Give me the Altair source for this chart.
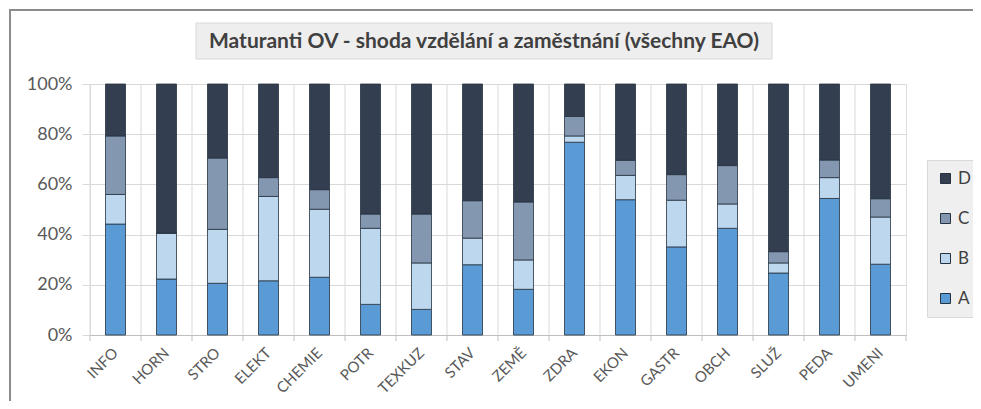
import altair as alt
import pandas as pd

categories = ["INFO", "HORN", "STRO", "ELEKT", "CHEMIE", "POTR", "TEXKUZ", "STAV",
              "ZEMĚ", "ZDRA", "EKON", "GASTR", "OBCH", "SLUŽ", "PEDA", "UMENI"]
series_names = ["A", "B", "C", "D"]
A = [44.2, 22.3, 20.6, 21.6, 23.0, 12.2, 10.2, 28.0, 18.2, 76.8, 53.9, 35.1, 42.5, 24.7, 54.4, 28.2]
B = [11.8, 18.3, 21.5, 33.6, 27.1, 30.3, 18.5, 10.6, 11.7, 2.5, 9.7, 18.6, 9.7, 4.0, 8.3, 18.8]
C = [23.3, 0.0, 28.4, 7.5, 7.8, 5.7, 19.5, 14.9, 23.1, 7.8, 6.0, 10.2, 15.3, 4.5, 7.0, 7.3]
D = [20.7, 59.4, 29.5, 37.3, 42.1, 51.8, 51.8, 46.5, 47.0, 12.9, 30.4, 36.1, 32.5, 66.8, 30.3, 45.7]
y_ticks = [0, 0.2, 0.4, 0.6, 0.8, 1.0]
title_text = "Maturanti  OV - shoda vzdělání a zaměstnání (všechny EAO)"

colors = {"A": "#5B9BD5", "B": "#BDD7EE", "C": "#8497B0", "D": "#333F50"}

rows = []
for i, cat in enumerate(categories):
    for j, (name, vals) in enumerate(zip(series_names, [A, B, C, D])):
        rows.append({"cat": cat, "seg": name, "val": vals[i], "ord": j})
df = pd.DataFrame(rows)
catdf = pd.DataFrame({"cat": categories})
one = pd.DataFrame({"k": [0]})

FONT = "Lato"
W, H = 816, 251
GRID = "#d9d9d9"
EDGE = "#263240"

xscale = alt.Scale(paddingInner=0, paddingOuter=0)
xaxis = alt.Axis(title=None, labelAngle=-45, ticks=False, grid=False,
                 domainColor="#bfbfbf", labelFont=FONT, labelFontSize=15,
                 labelColor="#595959", labelPadding=15, labelBaseline="middle",
                 labelAlign="right")

frame_top = alt.Chart(one).mark_rule(color="#8c8c8c", strokeWidth=2).encode(
    x=alt.value(-81), x2=alt.value(890), y=alt.value(-74))
frame_left = alt.Chart(one).mark_rule(color="#8c8c8c", strokeWidth=2).encode(
    x=alt.value(-80), y=alt.value(-75), y2=alt.value(320))

title_box = alt.Chart(one).mark_rect(fill="#eeeeee", stroke="#d9d9d9", strokeWidth=1).encode(
    x=alt.value(106), x2=alt.value(682), y=alt.value(-61), y2=alt.value(-25))
title_txt = alt.Chart(one).mark_text(
    text=title_text, font=FONT, fontSize=21, fontWeight="bold", color="#404040",
    align="center", baseline="middle").encode(x=alt.value(394), y=alt.value(-42))

bars = alt.Chart(df).mark_bar(size=20, stroke=EDGE, strokeWidth=0.8).encode(
    x=alt.X("cat:N", sort=categories, scale=xscale, axis=xaxis),
    y=alt.Y("val:Q", stack="normalize",
            axis=alt.Axis(title=None, format=".0%", values=y_ticks, domain=False,
                          tickColor=GRID, tickSize=8, gridColor=GRID,
                          labelFont=FONT, labelFontSize=18, labelColor="#595959",
                          labelPadding=10)),
    color=alt.Color("seg:N",
                    scale=alt.Scale(domain=["D", "C", "B", "A"],
                                    range=[colors["D"], colors["C"], colors["B"], colors["A"]]),
                    legend=alt.Legend(title=None, orient="none", legendX=837, legendY=76,
                                      fillColor="#efefef", strokeColor="#d9d9d9",
                                      padding=10, symbolType="square", symbolSize=100,
                                      symbolStrokeColor=EDGE, symbolStrokeWidth=1,
                                      labelFont=FONT, labelFontSize=17, labelColor="#404040",
                                      labelOffset=4, rowPadding=22)),
    order=alt.Order("ord:Q"),
)

vgrid = alt.Chart(catdf).mark_rule(color=GRID, strokeWidth=1).encode(
    x=alt.X("cat:N", sort=categories, bandPosition=0, scale=xscale, axis=xaxis),
    y=alt.value(0), y2=alt.value(H))
xticks = alt.Chart(catdf).mark_rule(color="#bfbfbf", strokeWidth=1).encode(
    x=alt.X("cat:N", sort=categories, bandPosition=0, scale=xscale, axis=xaxis),
    y=alt.value(H), y2=alt.value(H + 6))
last_tick = alt.Chart(one).mark_rule(color="#bfbfbf", strokeWidth=1).encode(
    x=alt.value(W), y=alt.value(H), y2=alt.value(H + 6))

chart = alt.layer(frame_top, frame_left, title_box, title_txt, vgrid, xticks, last_tick, bars).properties(
    width=W, height=H,
    autosize=alt.AutoSizeParams(type="none"),
    padding={"left": 82, "top": 76, "right": 67, "bottom": 66},
).configure_view(stroke=GRID).configure(background="white")

chart.save("out.html", embed_options={"renderer": "svg", "actions": False})
